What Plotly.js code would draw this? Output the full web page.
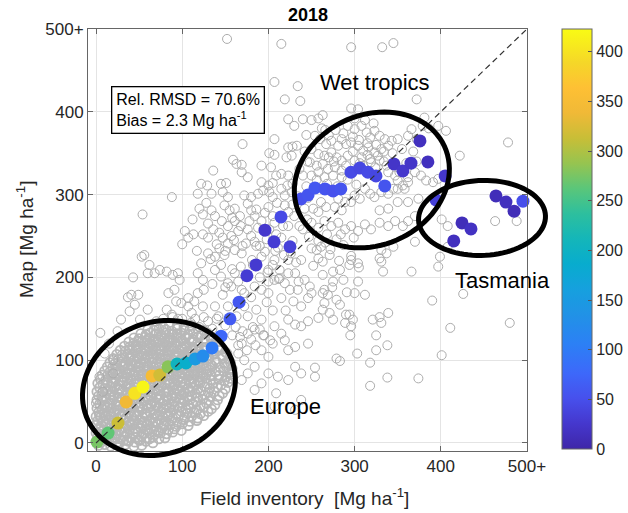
<!DOCTYPE html>
<html>
<head>
<meta charset="utf-8">
<script src="https://cdn.plot.ly/plotly-3.0.1.min.js"></script>
<style>html,body{margin:0;padding:0;background:#fff;}#chart{width:628px;height:513px;}</style>
</head>
<body>
<div id="chart"></div>
<script>
// ---------- Colored (binned mean) points ----------
const colX = [1.2,14,25.5,35,45,54.5,65,74,83.5,94,104.4,115,124,134.6,145,155.4,166,175,185.6,196,206.5,214.6,225,237.8,246,254,265.6,275,284,295.8,306,315.5,324.8,335,345.6,356,365.4,375.8,385,405,394.4,415,424.6,435,464,475.6,485,495.3];
const colY = [1.2,12,24,49.5,60,67.6,81,82,92,95.4,96.6,101.5,105,114.8,129,150,170,202,215,257,243,273,237,294.8,299.6,308,306.8,304.4,306.8,327,332,327,322.5,310.5,337,328.6,338,364.8,339.4,322.5,293.5,244,265.8,258.5,298.4,291,280,292];
const colV = [275,265,315,340,400,418,350,318,282,205,190,150,125,100,75,62,58,30,28,25,30,45,35,52,55,58,55,52,55,45,42,45,42,55,22,25,22,15,15,25,35,15,12,18,12,15,10,50];

// ---------- Grey open circles: dense Europe cluster ----------
const blobX = [
3,10,17,26,34,44,53,
0,6,12,19,25,32,38,45,51,58,66,
2,8,15,21,28,33,40,46,53,59,66,73,80,
0,5,12,18,23,30,36,43,48,55,62,68,75,82,89,
3,9,16,21,27,34,39,45,52,57,64,70,77,84,91,99,
0,6,11,18,24,29,36,42,49,54,60,67,72,79,86,93,100,107,
2,8,15,20,26,33,38,44,51,56,62,69,74,81,87,94,102,109,117,
0,5,11,17,24,29,35,41,47,54,59,65,71,78,83,89,96,103,111,118,125,
3,9,14,21,27,32,39,45,50,57,63,68,75,81,86,93,99,106,114,121,130,
1,7,13,18,25,31,36,43,49,54,61,67,72,79,85,90,97,104,110,117,125,134,
4,10,16,23,28,34,41,46,52,59,64,70,77,82,88,95,100,107,113,121,128,138,
1,7,12,19,25,30,37,43,48,55,61,66,73,79,84,91,97,102,109,116,124,131,141,
3,9,16,21,27,34,39,45,52,57,63,70,75,81,88,93,99,106,111,118,126,133,143,
1,7,12,19,25,30,37,43,48,55,61,66,73,79,84,91,97,102,109,115,122,130,137,147,
4,10,17,22,28,35,40,46,53,58,64,71,76,82,89,94,100,107,112,118,126,132,141,150,
2,8,13,20,26,31,38,44,49,56,62,67,74,80,85,92,98,103,110,116,121,129,136,145,153,
5,11,18,23,29,36,41,47,54,59,65,72,77,83,90,95,101,108,113,119,127,133,142,149,156,
7,13,18,25,31,36,43,49,54,61,67,72,79,85,90,97,103,108,115,121,128,134,143,151,157,
10,16,23,28,34,41,46,52,59,64,70,77,82,88,95,100,106,113,118,124,132,139,148,155,
13,19,24,31,37,42,49,55,60,67,73,78,85,91,96,103,109,114,121,128,135,144,151,158,
16,22,29,34,40,47,52,58,65,70,76,83,88,94,101,106,112,119,125,133,140,149,156,
20,26,31,38,44,49,56,62,67,74,80,85,92,98,103,110,116,122,131,138,147,154,
24,30,37,42,48,55,60,66,73,78,84,91,96,102,109,115,122,130,137,146,152,
28,34,39,46,52,57,64,70,75,82,88,93,100,106,112,120,127,136,143,150,
33,39,46,51,57,64,69,75,82,87,93,100,105,112,119,126,135,143,
38,44,49,56,62,67,74,80,85,92,98,103,111,118,125,134,141,
44,50,57,62,68,75,80,86,93,98,104,112,118,126,133,
52,58,63,70,76,81,88,94,99,107,113,122,129,
60,67,73,81,88,94,102,109,118,125,
70,78,85,94,102,111];
const blobY = [
-3,-2,-4,-3,-2,-4,-3,
2,1,3,2,1,3,2,1,3,2,0,
7,6,8,7,5,8,6,7,8,6,7,5,6,
12,11,13,12,10,13,11,12,13,11,12,10,12,11,13,
17,16,18,17,15,18,16,17,18,16,17,15,18,16,17,15,
22,21,23,22,20,23,21,22,23,21,22,20,23,21,22,20,23,21,
27,26,28,27,25,28,26,27,28,26,27,25,28,26,27,25,28,26,27,
32,31,33,32,30,33,31,32,33,31,32,30,33,31,32,30,33,31,32,30,33,
37,36,38,37,35,38,36,37,38,36,37,35,38,36,37,35,38,36,37,35,38,
42,41,43,42,40,43,41,42,43,41,42,40,43,41,42,40,43,41,42,40,43,41,
47,46,48,47,45,48,46,47,48,46,47,45,48,46,47,45,48,46,47,45,48,46,
52,51,53,52,50,53,51,52,53,51,52,50,53,51,52,50,53,51,52,50,53,51,52,
57,56,58,57,55,58,56,57,58,56,57,55,58,56,57,55,58,56,57,55,58,56,57,
62,61,63,62,60,63,61,62,63,61,62,60,63,61,62,60,63,61,62,60,63,61,62,60,
67,66,68,67,65,68,66,67,68,66,67,65,68,66,67,65,68,66,67,65,68,66,67,65,
72,71,73,72,70,73,71,72,73,71,72,70,73,71,72,70,73,71,72,70,73,71,72,70,73,
77,76,78,77,75,78,76,77,78,76,77,75,78,76,77,75,78,76,77,75,78,76,77,75,78,
82,81,83,82,80,83,81,82,83,81,82,80,83,81,82,80,83,81,82,80,83,81,82,80,83,
87,86,88,87,85,88,86,87,88,86,87,85,88,86,87,85,88,86,87,85,88,86,87,85,
92,91,93,92,90,93,91,92,93,91,92,90,93,91,92,90,93,91,92,90,93,91,92,90,
97,96,98,97,95,98,96,97,98,96,97,95,98,96,97,95,98,96,97,95,98,96,97,
102,101,103,102,100,103,101,102,103,101,102,100,103,101,102,100,103,101,102,100,103,101,
107,106,108,107,105,108,106,107,108,106,107,105,108,106,107,105,108,106,107,105,108,
112,111,113,112,110,113,111,112,113,111,112,110,113,111,112,110,113,111,112,110,
117,116,118,117,115,118,116,117,118,116,117,115,118,116,117,115,118,116,
122,121,123,122,120,123,121,122,123,121,122,120,123,121,122,120,123,
127,126,128,127,125,128,126,127,128,126,127,125,128,126,127,
132,131,133,132,130,133,131,132,133,131,132,130,133,
137,136,138,137,135,138,136,137,138,136,
141,140,142,141,140,142];

// ---------- Grey open circles: dense core of the Europe cluster (second layer) ----------
const coreX = [
9,22,36,49,62,
6,19,33,46,59,72,
13,27,40,53,66,79,
4,17,31,44,58,71,84,
10,24,37,51,64,78,91,
7,20,34,47,61,74,88,101,
14,27,41,54,68,81,95,108,
19,32,46,59,73,86,100,114,
26,39,53,66,80,93,107,121,
33,46,60,73,87,100,114,128,
40,53,67,80,94,107,121,
49,62,76,89,103,116,
60,73,87,100,113];
const coreY = [
4,5,3,4,5,
14,15,13,14,15,13,
24,25,23,24,25,23,
34,35,33,34,35,33,34,
44,45,43,44,45,43,44,
54,55,53,54,55,53,54,53,
64,65,63,64,65,63,64,63,
74,75,73,74,75,73,74,73,
84,85,83,84,85,83,84,83,
94,95,93,94,95,93,94,93,
104,105,103,104,105,103,104,
114,115,113,114,115,113,
124,125,123,124,125];

// ---------- Grey open circles: scattered points ----------
const scatX = [
152,215,207,234,219,237,240,223,230,170, 207,223,228,233,201,207,221,227,159,163,
169,136,192,203,209,215,223,236,240,169, 176,122,129,145,151,192,200,205,222,228,
118,134,147,153,172,180,188,194,201,205, 215,219,227,88,54,120,124,134,138,149,
155,161,167,161,176,180,184,192,188,200, 205,207,219,223,230,223,136,143,147,153,
157,165,103,107,113,124,130,201,209,215, 176,180,244,242,245,244,246,242,245,240,
296,332,345,372,296,304,263,258,250,381, 379,386,397,406,366,362,372,478,422,292,
300,308,314,318,323,329,335,343,350,285, 290,296,304,310,316,323,331,339,254,260,
267,273,281,250,258,265,273,279,285,292, 300,308,318,327,248,256,263,269,277,285,
290,310,319,329,337,250,258,265,275,285, 339,347,352,362,370,377,383,391,397,350,
356,362,345,350,358,331,339,312,318,323, 300,306,296,281,289,277,285,261,267,258,
252,250,258,265,273,281,289,296,304,312, 319,329,339,347,356,362,370,329,339,350,
362,374,401,408,463,488,
250,256,261,258,263,271,275,283,287,294, 304,296,329,331,333,337,345,331,366,370,
397,399,408,275,304,300,312,248,250,263, 269,265,246,279,283,265,263,271,258,275,
246,290,294,289,296,298,295,321,329,331, 339,325,338,325,303,318,279,283,254,254,
318,338,374,390,426,411,401,480,246,
56,53,62,68,60,74,82,89,95,97, 91,84,93,99,107,107,111,114,118,124,
124,118,122,130,138,143,149,153,161,169, 174,138,145,153,161,169,172,147,138,142,
153,163,157,29,39,45,41,49,60,82, 20,4,8,20,0,172,176,186,192,184,
176,194,202,207,215,223,231,238,238,229, 234,219,207,200,192,184,223,242,231,238,
223,207,192,200,213,169,165,172,192,200, 184,176,200,211,223,231,238,223,231,219,
205,209,192,184,169,207,231,238,
100,110,120,130,135,150,158,162,167,140, 125,115,95,88,78,70,170,180,185,175,
165,182,190,195,43,37,5,15,10,25, 51,89,
186,196,211,226,181,205,218,232,168,199, 213,184,228,236,247,258,268,279,252,272,
287,263,282,296,274,291,305,266,284,299,
130,140,150,160,170,178,186,196,210,217, 228,234,198,208,190,168,158,146,128,112,
100,117,133,145,158,182,190,200,212,225, 235,215,198,180,165,150,135,125,205,220,
262,270,278,287,298,305,315,325,334,344, 300,312,322,270,276,298,306,315,324,334,
256,268,280,292,302,266,355,360,368,372];
const scatY = [
488,482,436,431,415,413,391,391,383,361, 367,357,358,359,350,348,345,347,342,337,
336,329,335,333,323,325,323,331,323,327, 321,313,311,313,314,315,311,314,311,313,
301,301,303,297,299,297,301,305,303,297, 307,299,303,297,276,283,276,281,274,287,
281,283,274,268,289,281,274,268,260,285, 274,266,287,279,274,262,258,254,248,262,
250,256,256,248,252,252,248,258,252,248, 258,250,372,352,340,310,296,283,270,258,
478,478,483,415,404,403,396,392,390,393, 383,380,383,377,379,371,367,363,347,383,
379,383,375,369,377,371,367,365,367,367, 361,363,359,353,357,351,355,359,371,367,
361,365,359,355,349,347,351,345,341,347, 341,345,343,347,339,335,337,331,333,329,
335,335,339,341,335,323,327,321,323,321, 327,323,327,321,327,323,317,315,319,317,
311,315,307,307,307,303,301,307,301,297, 299,295,291,295,291,285,281,291,285,279,
283,266,260,268,262,266,258,262,256,264, 258,266,262,268,262,268,274,281,283,291,
291,295,270,262,268,268,
235,233,237,223,219,227,207,209,197,215, 217,221,223,219,207,229,237,233,207,243,
213,225,237,195,195,181,179,189,181,181, 179,185,175,173,167,169,161,157,151,149,
147,155,155,145,141,149,130,149,152,145, 157,130,118,112,108,97,102,99,91,80,
69,79,78,172,180,139,106,145,120,
227,225,215,205,205,209,207,203,205,197, 185,181,171,169,175,165,157,171,181,165,
197,205,217,229,225,235,227,241,233,229, 241,209,201,193,205,185,181,179,165,153,
165,153,189,149,159,167,179,179,161,161, 100,80,62,84,48,165,153,161,149,137,
132,130,124,141,132,149,143,141,165,171, 185,193,197,181,185,189,205,197,205,221,
221,221,225,209,209,120,108,100,112,104, 92,84,84,80,76,92,84,112,116,124,
120,60,72,64,76,44,40,52,
150,145,140,147,138,142,130,140,128,150, 152,150,150,155,150,147,135,125,118,112,
118,140,137,130,200,176,133,120,108,135, 149,152,
238,231,236,229,221,215,227,218,213,206, 199,243,244,262,249,244,252,246,214,234,
239,203,220,226,188,182,212,242,252,248,
265,240,232,245,238,268,282,278,290,262, 288,298,246,232,238,262,272,268,290,270,
240,232,222,215,210,215,200,195,198,185, 195,175,170,176,195,188,192,185,160,160,
380,372,378,374,370,366,362,360,352,350, 392,390,386,345,340,352,338,348,333,340,
318,313,310,318,312,378,355,338,352,340];

// ---------- Axis ticks and colorbar ticks ----------
const axisTickVals = [0,100,200,300,400,500];
const axisTickText = ['0','100','200','300','400','500+'];
const cbarTickVals = [0,50,100,150,200,250,300,350,400];
const oneToOne = [0,500];

// ---------- Ellipse annotations (center in data units, radii in px, tilt deg) ----------
const ellipseCX = [73, 320, 447.8];
const ellipseCY = [66.4, 317.7, 271.8];
const ellipseA = [78, 80, 63.5];
const ellipseB = [65.7, 65, 37.5];
const ellipseTilt = [21.6, 25, 2];

const W = 628, H = 513;
const M = {l:88, r:101, t:29, b:62, autoexpand:false};
const xRange = [-9.3, 500], yRange = [-9.7, 500];
const PW = W - M.l - M.r, PH = H - M.t - M.b;
const FONT = 'Liberation Sans, Arial, Helvetica, sans-serif';

function ellipsePath(cx, cy, a, b, deg) {
  const px0 = (cx - xRange[0]) / (xRange[1] - xRange[0]);
  const py0 = (cy - yRange[0]) / (yRange[1] - yRange[0]);
  const th = deg * Math.PI / 180;
  let d = '';
  for (let i = 0; i <= 90; i++) {
    const t = i / 90 * 2 * Math.PI;
    const dx = a * Math.cos(t) * Math.cos(th) - b * Math.sin(t) * Math.sin(th);
    const dy = a * Math.cos(t) * Math.sin(th) + b * Math.sin(t) * Math.cos(th);
    d += (i ? 'L' : 'M') + (px0 + dx / PW).toFixed(5) + ',' + (py0 + dy / PH).toFixed(5);
  }
  return d + 'Z';
}

const parula = [
  [0,'rgb(62,38,168)'],[0.06,'rgb(69,55,205)'],[0.12,'rgb(71,80,236)'],[0.18,'rgb(61,104,250)'],
  [0.25,'rgb(44,128,245)'],[0.32,'rgb(33,146,230)'],[0.38,'rgb(22,160,222)'],[0.44,'rgb(8,172,206)'],
  [0.5,'rgb(20,182,185)'],[0.56,'rgb(45,191,158)'],[0.62,'rgb(90,198,122)'],[0.68,'rgb(150,196,80)'],
  [0.74,'rgb(200,190,55)'],[0.8,'rgb(240,185,55)'],[0.86,'rgb(254,192,52)'],[0.92,'rgb(245,215,40)'],
  [1,'rgb(249,251,20)']];

const greyMarker = {symbol:'circle-open', size:9, color:'#acacac', line:{width:1, color:'#acacac'}};
const blobMarker = {symbol:'circle-open', size:9, color:'#b8b8b8', line:{width:1.8, color:'#b8b8b8'}};

const traces = [
  {type:'scatter', mode:'markers', x:blobX, y:blobY, marker:blobMarker, hoverinfo:'skip', showlegend:false},
  {type:'scatter', mode:'markers', x:coreX, y:coreY, marker:blobMarker, hoverinfo:'skip', showlegend:false},
  {type:'scatter', mode:'markers', x:scatX, y:scatY, marker:greyMarker, hoverinfo:'skip', showlegend:false},
  {type:'scatter', mode:'markers', x:colX, y:colY, hoverinfo:'skip', showlegend:false, cliponaxis:false,
   marker:{size:13, color:colV, colorscale:parula, cmin:0, cmax:423, line:{width:0}, showscale:true,
     colorbar:{x:(562 - M.l)/PW, xanchor:'left', xpad:0, y:(H - M.b - 239)/PH, yanchor:'middle', ypad:0,
       len:420, lenmode:'pixels', thickness:30, thicknessmode:'pixels',
       outlinewidth:1, outlinecolor:'#666', ticks:'inside', ticklen:4, tickcolor:'#555',
       tickvals:cbarTickVals, tickfont:{family:FONT, size:16, color:'#262626'}}}},
  {type:'scatter', mode:'lines', x:oneToOne, y:oneToOne, line:{color:'#333', width:1.2, dash:'6px,4px'}, hoverinfo:'skip', showlegend:false}
];

const axisCommon = {
  tickvals:axisTickVals, ticktext:axisTickText, showgrid:true, gridcolor:'#e4e4e4', gridwidth:1,
  zeroline:false, showline:true, linecolor:'#666', linewidth:1, mirror:'ticks',
  ticks:'inside', ticklen:5, tickcolor:'#666', tickwidth:1,
  tickfont:{family:FONT, size:17, color:'#262626'}, fixedrange:true
};

const shapes = ellipseCX.map((cx, i) => ({
  type:'path', xref:'paper', yref:'paper', layer:'above',
  path: ellipsePath(cx, ellipseCY[i], ellipseA[i], ellipseB[i], ellipseTilt[i]),
  line:{color:'#000', width:5}
}));

const annotations = [
  {xref:'paper', yref:'paper', x:0.5, y:(H - M.b - 15)/PH, text:'<b>2018</b>', showarrow:false,
   font:{family:FONT, size:18, color:'#000'}, xanchor:'center', yanchor:'middle'},
  {xref:'paper', yref:'paper', x:(304 - M.l)/PW, y:(H - M.b - 497)/PH, text:'Field inventory  [Mg ha<sup>-1</sup>]',
   showarrow:false, font:{family:FONT, size:19, color:'#262626'}, xanchor:'center', yanchor:'middle'},
  {xref:'paper', yref:'paper', x:(25 - M.l)/PW, y:0.5, text:'Map [Mg ha<sup>-1</sup>]', textangle:-90,
   showarrow:false, font:{family:FONT, size:19, color:'#262626'}, xanchor:'center', yanchor:'middle'},
  {xref:'x', yref:'y', x:106.7, y:401.7, text:'Rel. RMSD = 70.6%<br>Bias = 2.3 Mg ha<sup>-1</sup>', align:'left',
   showarrow:false, bgcolor:'#fff', bordercolor:'#000', borderwidth:1.3, borderpad:4,
   font:{family:FONT, size:16, color:'#000'}, xanchor:'center', yanchor:'middle'},
  {xref:'x', yref:'y', x:324, y:435, text:'Wet tropics', showarrow:false, font:{family:FONT, size:22, color:'#000'}},
  {xref:'x', yref:'y', x:471.5, y:195.7, text:'Tasmania', showarrow:false, font:{family:FONT, size:22, color:'#000'}},
  {xref:'x', yref:'y', x:219.8, y:43.5, text:'Europe', showarrow:false, font:{family:FONT, size:22, color:'#000'}}
];

const layout = {
  width:W, height:H, margin:M, paper_bgcolor:'#fff', plot_bgcolor:'#fff',
  font:{family:FONT},
  xaxis:Object.assign({range:xRange}, axisCommon),
  yaxis:Object.assign({range:yRange}, axisCommon),
  shapes:shapes, annotations:annotations, showlegend:false
};

Plotly.newPlot('chart', traces, layout, {staticPlot:true, displayModeBar:false});
</script>
</body>
</html>
